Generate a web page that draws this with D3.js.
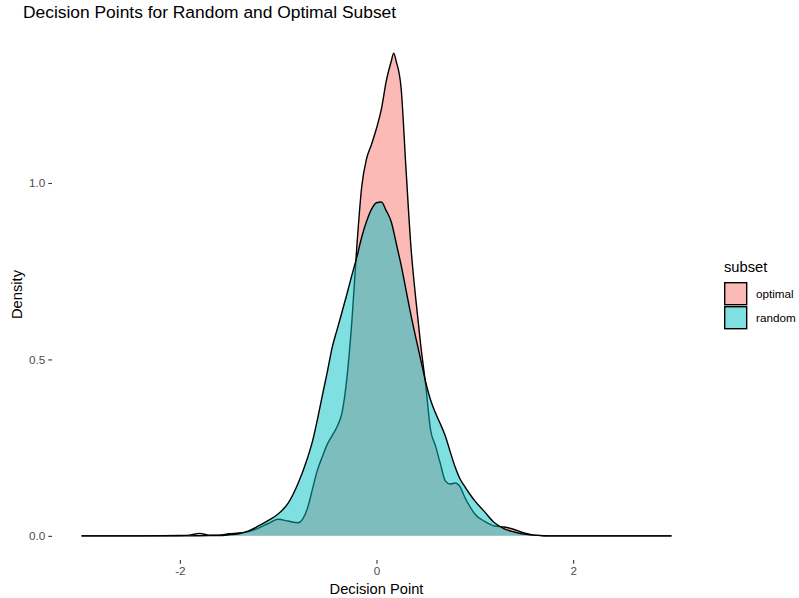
<!DOCTYPE html>
<html>
<head>
<meta charset="utf-8">
<script src="https://cdn.jsdelivr.net/npm/d3@7"></script>
<style>
  body { margin: 0; background: #fff; }
  svg { display: block; font-family: "Liberation Sans", Arial, sans-serif; }
</style>
</head>
<body>
<div id="chart"></div>
<script>
// density estimates, on a shared grid of decision points
var decisionPoint = [-3, -2.5, -2, -1.9, -1.8, -1.7, -1.6, -1.5, -1.4, -1.3, -1.2, -1.1, -1.0, -0.9, -0.8, -0.7, -0.65,
    -0.6, -0.55, -0.5, -0.45, -0.4, -0.35, -0.3, -0.25, -0.2, -0.15, -0.1, -0.05, 0, 0.05, 0.1, 0.15, 0.175, 0.2, 0.25,
    0.3, 0.35, 0.4, 0.45, 0.5, 0.55, 0.6, 0.65, 0.7, 0.75, 0.8, 0.85, 0.9, 0.95, 1.0, 1.1, 1.2, 1.3, 1.4, 1.5,
    1.6, 1.7, 1.8, 2, 2.5, 3];

var optimalDensity = [0, 0, 0.001, 0.002, 0.007, 0.002, 0.002, 0.006, 0.008, 0.012, 0.022, 0.035, 0.047, 0.042, 0.037, 0.080, 0.134,
    0.187, 0.225, 0.26, 0.285, 0.31, 0.35, 0.45, 0.61, 0.82, 0.99, 1.07, 1.11, 1.155, 1.21, 1.29, 1.345, 1.368, 1.345, 1.27,
    1.04, 0.82, 0.67, 0.54, 0.428, 0.30, 0.255, 0.204, 0.156, 0.147, 0.150, 0.139, 0.108, 0.083, 0.062, 0.041, 0.028, 0.025, 0.018, 0.008,
    0.002, 0.0005, 0, 0, 0, 0];

var randomDensity = [0, 0, 0, 0, 0.0005, 0.0008, 0.001, 0.003, 0.006, 0.014, 0.028, 0.044, 0.062, 0.092, 0.147, 0.222, 0.269,
    0.331, 0.399, 0.465, 0.535, 0.585, 0.635, 0.686, 0.739, 0.79, 0.847, 0.892, 0.926, 0.944, 0.946, 0.921, 0.89, 0.862, 0.83, 0.768,
    0.697, 0.626, 0.561, 0.499, 0.436, 0.385, 0.348, 0.317, 0.283, 0.238, 0.195, 0.161, 0.139, 0.118, 0.099, 0.068, 0.037, 0.02, 0.011, 0.005,
    0.002, 0.0005, 0, 0, 0, 0];

var subsets = ["optimal", "random"];
var subsetColors = ["#F8766D", "#00BFC4"];
var xTicks = [-2, 0, 2];
var yTicks = [0, 0.5, 1.0];

var width = 799,
    height = 598,
    margin = {top: 29, right: 98, bottom: 38, left: 52};

var svg = d3.select("#chart")
    .append("svg")
    .attr("width", width)
    .attr("height", height);

var x = d3.scaleLinear()
    .domain([-3.3, 3.3])
    .range([margin.left, width - margin.right]);

var yMax = d3.max(optimalDensity.concat(randomDensity));
var y = d3.scaleLinear()
    .domain([-yMax * 0.05, yMax * 1.05])
    .range([height - margin.bottom, margin.top]);

var series = subsets.map(function(name, i) {
    var vals = i === 0 ? optimalDensity : randomDensity;
    return {
        name: name,
        color: subsetColors[i],
        points: decisionPoint.map(function(d, j) { return {x: d, y: vals[j]}; })
    };
});

var area = d3.area()
    .x(function(d) { return x(d.x); })
    .y0(y(0))
    .y1(function(d) { return y(d.y); })
    .curve(d3.curveMonotoneX);

var line = d3.line()
    .x(function(d) { return x(d.x); })
    .y(function(d) { return y(d.y); })
    .curve(d3.curveMonotoneX);

// optimal first, random on top (both half transparent)
series.forEach(function(s) {
    svg.append("path")
        .datum(s.points)
        .attr("d", area)
        .attr("fill", s.color)
        .attr("fill-opacity", 0.5);
    svg.append("path")
        .datum(s.points)
        .attr("d", line)
        .attr("fill", "none")
        .attr("stroke", "#000")
        .attr("stroke-width", 1.4);
});

// plain hyphen for negatives, like R does
var hyphen = function(fmt) {
    return function(d) { return fmt(d).replace("\u2212", "-"); };
};

// x axis: ticks and labels only, no axis line
var xAxis = svg.append("g")
    .attr("transform", "translate(0," + (height - margin.bottom) + ")")
    .call(d3.axisBottom(x).tickValues(xTicks).tickSize(3.7).tickPadding(3).tickFormat(hyphen(d3.format("d"))));
xAxis.select(".domain").remove();
xAxis.selectAll("line").attr("stroke", "#333333").attr("stroke-width", 1.1);
xAxis.selectAll("text").attr("fill", "#4D4D4D").attr("font-size", "11.7px").attr("font-family", null);

var yAxis = svg.append("g")
    .attr("transform", "translate(" + margin.left + ",0)")
    .call(d3.axisLeft(y).tickValues(yTicks).tickSize(3.7).tickPadding(3).tickFormat(d3.format(".1f")));
yAxis.select(".domain").remove();
yAxis.selectAll("line").attr("stroke", "#333333").attr("stroke-width", 1.1);
yAxis.selectAll("text").attr("fill", "#4D4D4D").attr("font-size", "11.7px").attr("font-family", null);

// titles
svg.append("text")
    .attr("x", 23)
    .attr("y", 18)
    .attr("font-size", "17.4px")
    .attr("fill", "#000")
    .text("Decision Points for Random and Optimal Subset");

svg.append("text")
    .attr("x", x(0))
    .attr("y", 594)
    .attr("text-anchor", "middle")
    .attr("font-size", "14.7px")
    .text("Decision Point");

svg.append("text")
    .attr("transform", "translate(22," + (y.range()[0] + y.range()[1]) / 2 + ") rotate(-90)")
    .attr("text-anchor", "middle")
    .attr("font-size", "14.7px")
    .text("Density");

// legend
var legend = svg.append("g")
    .attr("transform", "translate(724,0)");

legend.append("text")
    .attr("x", 0)
    .attr("y", 272)
    .attr("font-size", "14.7px")
    .text("subset");

var keys = legend.selectAll("g.key")
    .data(series).enter()
    .append("g")
    .attr("class", "key")
    .attr("transform", function(d, i) { return "translate(0," + (282 + i * 24) + ")"; });

keys.append("rect")
    .attr("x", 0.7)
    .attr("y", 0.7)
    .attr("width", 22)
    .attr("height", 22)
    .attr("fill", function(d) { return d.color; })
    .attr("fill-opacity", 0.5)
    .attr("stroke", "#000")
    .attr("stroke-width", 1.4);

keys.append("text")
    .attr("x", 32)
    .attr("y", 12)
    .attr("dy", "0.35em")
    .attr("font-size", "11.7px")
    .attr("fill", "#000")
    .text(function(d) { return d.name; });
</script>
</body>
</html>
